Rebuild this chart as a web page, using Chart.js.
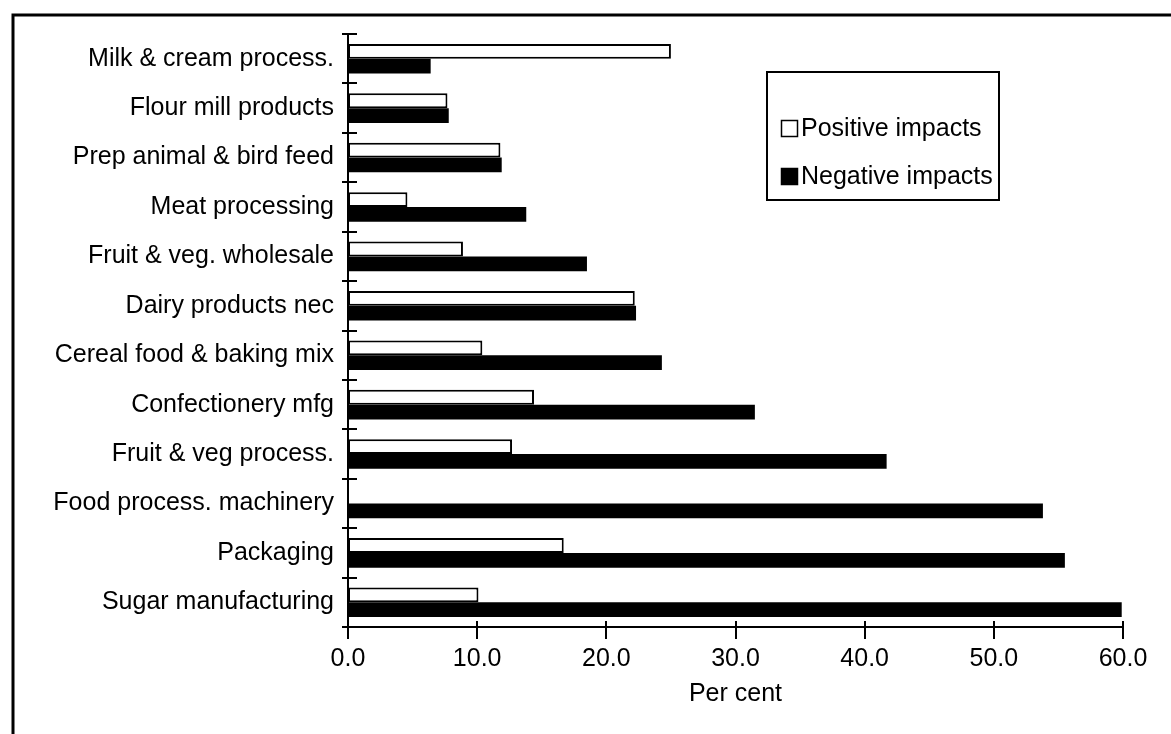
<!DOCTYPE html>
<html>
<head>
<meta charset="utf-8">
<script src="https://cdn.jsdelivr.net/npm/chart.js@4.4.1/dist/chart.umd.min.js"></script>
<style>
  html, body { margin: 0; padding: 0; background: #fff; }
  #wrap { width: 1171px; height: 734px; position: relative; }
</style>
</head>
<body>
<div id="wrap"><canvas id="impactChart" width="1171" height="734"></canvas></div>
<script>
// data
const industries = [
    'Milk & cream process.',
    'Flour mill products',
    'Prep animal & bird feed',
    'Meat processing',
    'Fruit & veg. wholesale',
    'Dairy products nec',
    'Cereal food & baking mix',
    'Confectionery mfg',
    'Fruit & veg process.',
    'Food process. machinery',
    'Packaging',
    'Sugar manufacturing'
];
const positiveImpacts = [25.0, 7.7, 11.8, 4.6, 8.9, 22.2, 10.4, 14.4, 12.7, 0, 16.7, 10.1];
const negativeImpacts = [6.4, 7.8, 11.9, 13.8, 18.5, 22.3, 24.3, 31.5, 41.7, 53.8, 55.5, 59.9];
const xTicks = [0, 10, 20, 30, 40, 50, 60];

const FONT = '"Liberation Sans", Arial, sans-serif';
const FONT_SIZE = 25;

// frame (only top + left edges are inside the picture)
const framePlugin = {
    id: 'frame',
    beforeDraw(chart) {
        const c = chart.ctx;
        c.save();
        c.fillStyle = '#fff';
        c.fillRect(0, 0, chart.width, chart.height);
        c.strokeStyle = '#000';
        c.lineWidth = 3;
        c.beginPath();
        c.moveTo(13, chart.height + 5);
        c.lineTo(13, 15);
        c.lineTo(chart.width + 5, 15);
        c.stroke();
        c.restore();
    }
};

// cross tick marks on both axes
const crossTicks = {
    id: 'crossTicks',
    afterDraw(chart) {
        const c = chart.ctx;
        const y = chart.scales.y;
        const x = chart.scales.x;
        c.save();
        c.strokeStyle = '#000';
        c.lineWidth = 2;
        const step = y.getPixelForValue(1) - y.getPixelForValue(0);
        c.beginPath();
        for (let i = 0; i <= industries.length; i++) {
            const py = Math.round(y.getPixelForValue(0) - step / 2 + i * step);
            c.moveTo(x.left - 6, py);
            c.lineTo(x.left + 9, py);
        }
        xTicks.forEach(function (v) {
            const px = Math.round(x.getPixelForValue(v));
            c.moveTo(px, y.bottom - 6);
            c.lineTo(px, y.bottom + 12);
        });
        c.stroke();
        c.restore();
    }
};

// boxed legend inside the plot
const boxLegend = {
    id: 'boxLegend',
    afterDraw(chart) {
        const c = chart.ctx;
        c.save();
        c.strokeStyle = '#000';
        c.lineWidth = 2;
        c.strokeRect(767, 72, 232, 128);
        c.font = FONT_SIZE + 'px ' + FONT;
        c.textBaseline = 'middle';
        c.textAlign = 'left';
        const rows = [128, 176];
        chart.data.datasets.forEach(function (ds, i) {
            c.fillStyle = ds.backgroundColor;
            c.fillRect(781, rows[i] - 8, 17, 17);
            c.lineWidth = 1.5;
            c.strokeRect(781.5, rows[i] - 7.5, 16, 16);
            c.fillStyle = '#000';
            c.fillText(ds.label, 801, rows[i] + 1);
        });
        c.restore();
    }
};

const ctx = document.getElementById('impactChart');

new Chart(ctx, {
    type: 'bar',
    data: {
        labels: industries,
        datasets: [{
            label: 'Positive impacts',
            data: positiveImpacts,
            backgroundColor: '#ffffff',
            borderColor: '#000000',
            borderWidth: 2,
            borderSkipped: false,
            categoryPercentage: 0.6,
            barPercentage: 1.0
        }, {
            label: 'Negative impacts',
            data: negativeImpacts,
            backgroundColor: '#000000',
            borderWidth: 0,
            categoryPercentage: 0.6,
            barPercentage: 1.0
        }]
    },
    options: {
        indexAxis: 'y',
        responsive: false,
        animation: false,
        layout: { padding: { top: 34, right: 48, left: 0, bottom: 25 } },
        plugins: {
            legend: { display: false },
            tooltip: { enabled: false }
        },
        scales: {
            x: {
                min: 0,
                max: 60,
                afterFit: function (s) { s.height = 82; },
                afterBuildTicks: function (s) {
                    s.ticks = xTicks.map(function (v) { return { value: v }; });
                },
                grid: { display: false, drawTicks: false },
                border: { display: true, color: '#000', width: 2 },
                ticks: {
                    color: '#000',
                    font: { family: FONT, size: FONT_SIZE },
                    padding: 17,
                    callback: function (v) { return Number(v).toFixed(1); }
                },
                title: {
                    display: true,
                    text: 'Per cent',
                    color: '#000',
                    font: { family: FONT, size: FONT_SIZE },
                    padding: { top: 2, bottom: 0 }
                }
            },
            y: {
                afterFit: function (s) { s.width = 348; },
                grid: { display: false, drawTicks: false, offset: true },
                border: { display: true, color: '#000', width: 2 },
                ticks: {
                    color: '#000',
                    font: { family: FONT, size: FONT_SIZE },
                    padding: 14
                }
            }
        }
    },
    plugins: [framePlugin, crossTicks, boxLegend]
});
</script>
</body>
</html>
